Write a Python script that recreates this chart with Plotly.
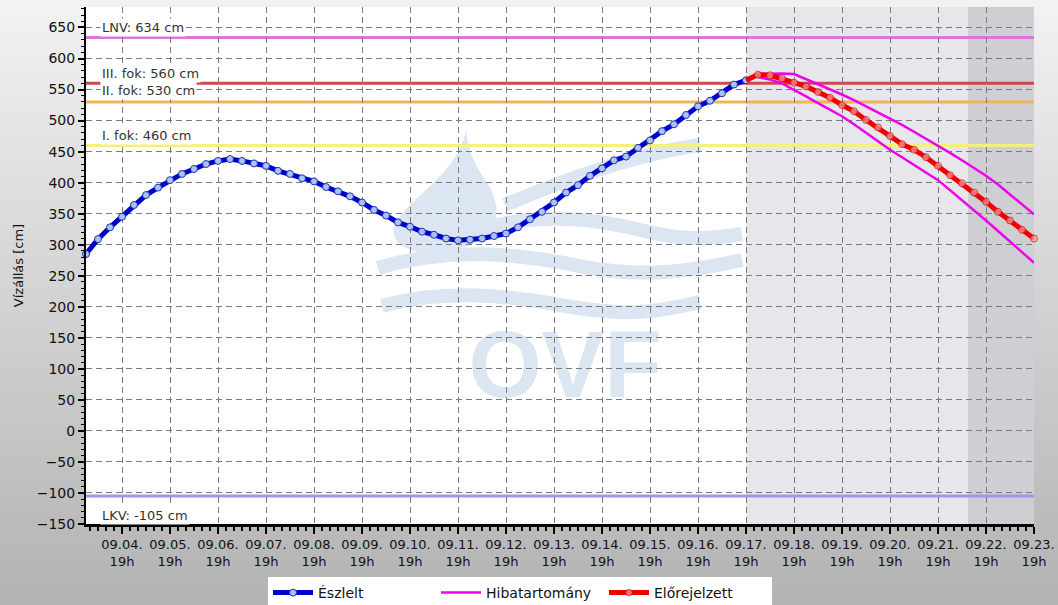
import plotly.graph_objects as go
import pandas as pd

# ---------------- data ----------------
obs_start = "2024-09-04 01:00"
fc_start = "2024-09-18 01:00"
step = "6h"

observed = [285, 309, 328, 345, 364, 380, 392, 404, 414, 422,
            430, 435, 438, 435, 431, 427, 419, 414, 407, 402,
            393, 386, 378, 368, 356, 347, 336, 329, 321, 316,
            310, 307, 308, 310, 314, 318, 328, 341, 353, 368,
            384, 396, 411, 423, 436, 442, 456, 468, 483, 494,
            509, 523, 532, 544, 558, 565]

forecast = [574, 573, 568, 561, 555, 546, 537, 525, 515, 501, 489, 475,
            462, 453, 441, 427, 412, 399, 384, 369, 353, 339, 324, 310]

band_upper = [575, 576, 576, 575, 567, 559, 551, 542, 533, 523, 514, 504,
              493, 482, 471, 460, 448, 436, 424, 411, 397, 381, 365, 349]

band_lower = [570, 566, 560, 550, 539, 528, 518, 507, 494, 480, 467, 453,
              441, 429, 417, 404, 388, 372, 356, 339, 322, 305, 288, 271]

threshold_labels = ["LNV: 634 cm", "III. fok: 560 cm", "II. fok: 530 cm", "I. fok: 460 cm", "LKV: -105 cm"]
threshold_values = [634, 560, 530, 460, -105]
threshold_colors = ["#dd77dd", "#cc4a4a", "#f2b452", "#f4f07e", "#9a9ae8"]
label_shift = [10, 10, 11, 10, -19]

tick_days = pd.date_range("2024-09-04 19:00", "2024-09-23 19:00", freq="D")
tick_text = [f"{d:%m.%d.}<br>19h" for d in tick_days]

x_start = "2024-09-04 01:00"
x_end = "2024-09-23 19:00"
dark_start = "2024-09-22 10:00"

legend_names = ["Észlelt", "Hibatartomány", "Előrejelzett"]

# ---------------- figure ----------------
obs_t = pd.date_range(obs_start, periods=len(observed), freq=step)
fc_t = pd.date_range(fc_start, periods=len(forecast), freq=step)

FW, FH = 1058, 605
ML, MR, MT, MB = 86, 24, 7, 81
PW, PH = FW - ML - MR, FH - MT - MB


def px(x):
    return (x - ML) / PW


def py(y):
    return (FH - MB - y) / PH


fig = go.Figure()

fig.add_trace(go.Scatter(
    x=obs_t, y=observed, name=legend_names[0], mode="lines+markers",
    line=dict(color="#0000cc", width=5),
    marker=dict(symbol="circle", size=7, color="#a8c4f0", line=dict(color="#2030c0", width=1)),
    cliponaxis=False))

fig.add_trace(go.Scatter(
    x=fc_t, y=band_upper, name=legend_names[1], mode="lines", legendgroup="band",
    line=dict(color="#ee00ee", width=2.5), cliponaxis=False))
fig.add_trace(go.Scatter(
    x=fc_t, y=band_lower, name=legend_names[1], mode="lines", legendgroup="band",
    showlegend=False, line=dict(color="#ee00ee", width=2.5), cliponaxis=False))

fig.add_trace(go.Scatter(
    x=[obs_t[-1]] + list(fc_t), y=[observed[-1]] + forecast, name=legend_names[2],
    mode="lines+markers",
    line=dict(color="#ee0000", width=5),
    marker=dict(symbol="circle", size=[0] + [7] * len(forecast), color="#f4a0a0",
                line=dict(color="#d01010", width=1)),
    cliponaxis=False))

shapes = []
# gradient background
n = 40
y0p, y1p = py(FH), py(0)
for i in range(n):
    t = i / (n - 1)
    c = int(242 - (242 - 180) * t)
    shapes.append(dict(type="rect", xref="paper", yref="paper", layer="below",
                       x0=px(0), x1=px(FW), y0=y1p - (y1p - y0p) * (i + 1) / n - 0.002,
                       y1=y1p - (y1p - y0p) * i / n,
                       fillcolor=f"rgb({c},{c},{c})", line=dict(width=0)))
# plot area
shapes.append(dict(type="rect", xref="paper", yref="paper", layer="below",
                   x0=0, x1=1, y0=0, y1=1, fillcolor="white", line=dict(width=0)))

# watermark
wm = "#dce6f2"


def path(pts):
    s = ""
    for cmd, coords in pts:
        s += cmd + " " + " ".join(f"{px(a):.4f},{py(b):.4f}" for a, b in coords) + " "
    return s


drop = path([("M", [(466, 130)]), ("C", [(458, 175), (405, 200), (395, 225)]),
             ("C", [(385, 250), (430, 262), (470, 245)]),
             ("C", [(505, 230), (500, 200), (485, 180)]), ("C", [(475, 165), (468, 150), (466, 130)]), ("Z", [])])
shapes.append(dict(type="path", xref="paper", yref="paper", layer="below", path=drop,
                   fillcolor=wm, line=dict(width=0)))
waves = [
    [("M", [(505, 205)]), ("C", [(560, 182), (630, 155), (700, 145)])],
    [("M", [(470, 232)]), ("C", [(540, 210), (600, 220), (640, 230)]), ("S", [(705, 240), (742, 234)])],
    [("M", [(378, 268)]), ("C", [(450, 246), (520, 254), (580, 266)]), ("S", [(690, 272), (742, 260)])],
    [("M", [(382, 306)]), ("C", [(440, 290), (500, 294), (560, 305)]), ("S", [(650, 314), (700, 302)])],
]
for w in waves:
    shapes.append(dict(type="path", xref="paper", yref="paper", layer="below", path=path(w),
                       line=dict(color=wm, width=14)))
shapes.append(dict(type="rect", xref="paper", yref="paper", layer="below",
                   x0=px(470), x1=px(660), y0=py(395), y1=py(315), line=dict(width=0),
                   fillcolor="rgba(0,0,0,0)",
                   label=dict(text="OVF", textposition="middle center",
                              font=dict(family="Liberation Sans", size=94, color=wm, weight="bold"))))

# forecast shading
shapes.append(dict(type="rect", xref="x", yref="paper", layer="below",
                   x0=obs_t[-1], x1=dark_start, y0=0, y1=1, fillcolor="#e7e7eb", line=dict(width=0)))
shapes.append(dict(type="rect", xref="x", yref="paper", layer="below",
                   x0=dark_start, x1=x_end, y0=0, y1=1, fillcolor="#cfcfd3", line=dict(width=0)))

# threshold lines
for v, c in zip(threshold_values, threshold_colors):
    shapes.append(dict(type="line", xref="paper", yref="y", layer="below",
                       x0=0, x1=1, y0=v, y1=v, line=dict(color=c, width=3)))

annotations = []
for lab, v, s in zip(threshold_labels, threshold_values, label_shift):
    annotations.append(dict(xref="paper", yref="y", x=px(100), y=v, yshift=s,
                            xanchor="left", yanchor="middle", text=lab, showarrow=False,
                            bgcolor="white", borderpad=1,
                            font=dict(family="DejaVu Sans", size=13, color="#333333")))

fig.update_layout(
    width=FW, height=FH,
    margin=dict(l=ML, r=MR, t=MT, b=MB, pad=0, autoexpand=False),
    paper_bgcolor="#d0d0d0", plot_bgcolor="rgba(0,0,0,0)",
    shapes=shapes, annotations=annotations,
    showlegend=True,
    legend=dict(orientation="h", x=px(268), xanchor="left", y=py(577), yanchor="top",
                bgcolor="white", borderwidth=0, entrywidth=113, entrywidthmode="pixels",
                font=dict(family="DejaVu Sans", size=14, color="#111111"),
                itemwidth=40, tracegroupgap=0),
    font=dict(family="DejaVu Sans", color="#111111"),
)

fig.update_xaxes(
    type="date", range=[x_start, x_end], automargin=False,
    tickmode="array", tickvals=tick_days, ticktext=tick_text,
    tickfont=dict(family="DejaVu Sans", size=13, color="#111111"),
    ticks="outside", ticklen=7, tickwidth=2, tickcolor="black",
    showline=True, linecolor="black", linewidth=2.5,
    showgrid=True, gridcolor="#7a7a7a", gridwidth=1, griddash="6px,4px",
    minor=dict(ticks="outside", ticklen=4, tickwidth=1.5, tickcolor="black",
               dtick=4 * 3600 * 1000, tick0="2024-09-04 19:00", showgrid=False),
    zeroline=False,
)

fig.update_yaxes(
    range=[-150, 683], tickmode="linear", tick0=-150, dtick=50, automargin=False,
    tickfont=dict(family="DejaVu Sans", size=14, color="#111111"),
    ticks="outside", ticklen=6, tickwidth=1.5, tickcolor="black",
    showline=True, linecolor="black", linewidth=2,
    showgrid=True, gridcolor="#7a7a7a", gridwidth=1, griddash="6px,4px",
    minor=dict(ticks="outside", ticklen=3, tickwidth=1, tickcolor="black", dtick=10, showgrid=False),
    zeroline=False,
    title=dict(text="Vízállás [cm]", font=dict(family="DejaVu Sans", size=13, color="#111111"), standoff=10),
)

fig.write_html("out.html", config={"displayModeBar": False},
               post_script="document.body.style.margin='0';document.body.style.overflow='hidden';")
